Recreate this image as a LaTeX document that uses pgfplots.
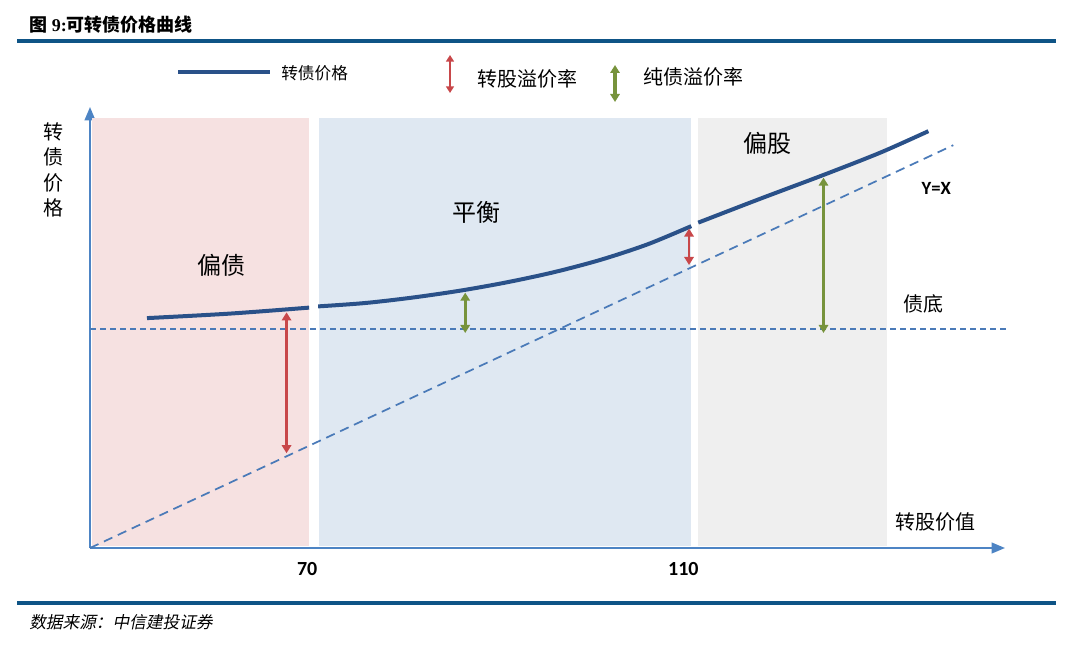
\documentclass[border=0pt]{standalone}
\usepackage{fontspec}
\setmainfont{Liberation Serif}
\newfontfamily\cjk{Noto Sans CJK SC}
\newfontfamily\cjkit[FakeSlant=0.2]{Noto Sans CJK SC}
\newfontfamily\carlito{Carlito}
\usepackage{pgfplots}
\pgfplotsset{compat=1.18}
\usetikzlibrary{arrows.meta}

\definecolor{pinkfill}{HTML}{F6E1E1}
\definecolor{bluefill}{HTML}{DFE8F2}
\definecolor{grayfill}{HTML}{EFEFEF}
\definecolor{curvecol}{HTML}{2A5189}
\definecolor{dashcol}{HTML}{4A7AB8}
\definecolor{axisblue}{HTML}{4D84C4}
\definecolor{redarrow}{HTML}{C8474A}
\definecolor{greenarrow}{HTML}{77933C}
\definecolor{titleblue}{HTML}{0E5486}

\tikzset{
  dbl/.style={{Triangle[length=6pt,width=7pt]}-{Triangle[length=6pt,width=7pt]}},
  cn/.style={font=\cjk\fontsize{15}{18}\selectfont, inner sep=0pt},
  region/.style={font=\cjk\fontsize{18}{20}\selectfont, inner sep=0pt},
  price/.style={curvecol, line width=3pt, smooth},
}

\begin{document}
\begin{tikzpicture}[x=0.75pt,y=0.75pt]
% page frame, 1080 x 644 px
\path (0,0) rectangle (1080,644);

% title and rules
\node[anchor=west, inner sep=0pt, font=\fontsize{13.5}{16}\selectfont\bfseries] at (29,619)
  {{\cjk 图} 9:{\cjk 可转债价格曲线}};
\draw[titleblue, line width=2.5pt] (17,603) -- (1056,603);
\draw[titleblue, line width=2.5pt] (17,41) -- (1056,41);
\node[anchor=west, inner sep=0pt, font=\cjkit\fontsize{12.5}{14}\selectfont] at (29,22)
  {数据来源：中信建投证券};

% legend
\draw[curvecol, line width=3pt] (178,572) -- (270,572);
\node[anchor=west, inner sep=0pt, font=\cjk\fontsize{12.5}{14}\selectfont] at (281,571) {转债价格};
\draw[redarrow, line width=1.2pt, {Triangle[length=5pt,width=6pt]}-{Triangle[length=5pt,width=6pt]}] (450,589) -- (450,551);
\node[cn, anchor=west] at (477,565) {转股溢价率};
\draw[greenarrow, line width=2.5pt, dbl] (615,579) -- (615,542);
\node[cn, anchor=west] at (643,567) {纯债溢价率};

% y label
\node[font=\cjk\fontsize{15}{19}\selectfont, align=center, inner sep=0pt] at (53,474) {转\\债\\价\\格};

\begin{axis}[
  at={(67.5pt,72pt)}, anchor=south west,
  scale only axis, width=686.25pt, height=330.75pt,
  xmin=46.9, xmax=144.2, ymin=46.9, ymax=147.4,
  axis lines=left,
  axis line style={draw=axisblue, line width=1.5pt, -{Triangle[length=10pt,width=8pt]}},
  xtick={70,110}, xticklabels={70,110}, ytick=\empty, major tick length=0pt,
  xticklabel style={font=\carlito\bfseries\fontsize{15}{15}\selectfont, yshift=-7pt},
  clip=false,
]
% regions
\fill[pinkfill] (axis cs:47.1,47.3) rectangle (axis cs:70.2,144.8);
\fill[bluefill] (axis cs:71.2,47.3) rectangle (axis cs:110.8,144.8);
\fill[grayfill] (axis cs:111.6,47.3) rectangle (axis cs:131.7,145.0);

% convertible bond price, broken at the region gaps
\addplot[price] coordinates {(52.96,99.29) (61.79,100.32) (70.20,101.68)};
\addplot[price] coordinates {
  (71.16,101.96) (76.16,102.73) (81.16,103.96) (86.16,105.51) (91.16,107.42)
  (96.16,109.72) (101.16,112.55) (106.16,116.08) (110.84,120.25)};
\addplot[price] coordinates {
  (111.58,121.05) (118.18,126.5) (124.88,131.9) (130.94,137.0) (136.05,141.89)};

% y = x and bond floor
\addplot[dashcol, line width=1.3pt, dash pattern=on 7pt off 4.5pt] coordinates {(46.9,46.9) (138.7,138.7)};
\addplot[dashcol, line width=1.2pt, dash pattern=on 4.5pt off 3pt] coordinates {(46.9,96.8) (144.5,96.8)};

% premium arrows
\draw[redarrow, line width=2pt, dbl] (axis cs:67.8,100.6) -- (axis cs:67.8,68.5);
\draw[greenarrow, line width=2pt, dbl] (axis cs:86.8,105.1) -- (axis cs:86.8,95.9);
\draw[redarrow, line width=2pt, dbl] (axis cs:110.6,119.7) -- (axis cs:110.6,111.4);
\draw[greenarrow, line width=2pt, dbl] (axis cs:124.9,131.3) -- (axis cs:124.9,95.9);

% labels
\node[region] at (axis cs:60.9,111.4) {偏债};
\node[region] at (axis cs:88.0,123.4) {平衡};
\node[region] at (axis cs:118.9,139.2) {偏股};
\node[font=\carlito\bfseries\fontsize{14}{14}\selectfont] at (axis cs:136.9,128.9) {Y=X};
\node[cn] at (axis cs:135.5,102.5) {债底};
\node[cn, fill=white, inner sep=4pt] at (axis cs:136.8,52.8) {转股价值};
\end{axis}
\end{tikzpicture}
\end{document}
